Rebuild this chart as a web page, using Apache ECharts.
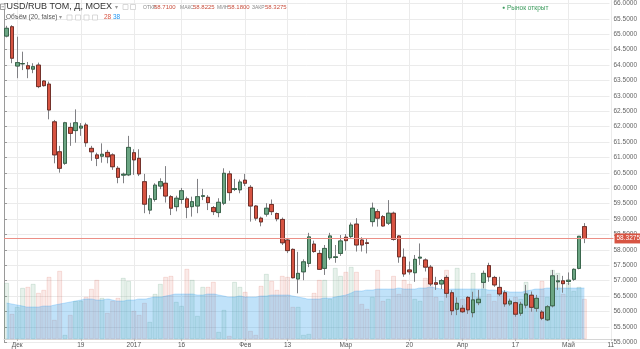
<!DOCTYPE html>
<html><head><meta charset="utf-8">
<script src="https://cdn.jsdelivr.net/npm/echarts@6/dist/echarts.min.js"></script>
<style>html,body{margin:0;padding:0;background:#fff}#c{width:640px;height:349px}</style>
</head><body><div id="c"></div>
<script>
// ---------- data ----------
const dates = [
 '2016-11-29','2016-11-30',
 '2016-12-01','2016-12-02','2016-12-05','2016-12-06','2016-12-07','2016-12-08','2016-12-09','2016-12-12','2016-12-13','2016-12-14','2016-12-15','2016-12-16','2016-12-19','2016-12-20','2016-12-21','2016-12-22','2016-12-23','2016-12-26','2016-12-27','2016-12-28','2016-12-29','2016-12-30',
 '2017-01-03','2017-01-04','2017-01-05','2017-01-06','2017-01-09','2017-01-10','2017-01-11','2017-01-12','2017-01-13','2017-01-16','2017-01-17','2017-01-18','2017-01-19','2017-01-20','2017-01-23','2017-01-24','2017-01-25','2017-01-26','2017-01-27','2017-01-30','2017-01-31',
 '2017-02-01','2017-02-02','2017-02-03','2017-02-06','2017-02-07','2017-02-08','2017-02-09','2017-02-10','2017-02-13','2017-02-14','2017-02-15','2017-02-16','2017-02-17','2017-02-20','2017-02-21','2017-02-22','2017-02-24','2017-02-27','2017-02-28',
 '2017-03-01','2017-03-02','2017-03-03','2017-03-06','2017-03-07','2017-03-09','2017-03-10','2017-03-13','2017-03-14','2017-03-15','2017-03-16','2017-03-17','2017-03-20','2017-03-21','2017-03-22','2017-03-23','2017-03-24','2017-03-27','2017-03-28','2017-03-29','2017-03-30','2017-03-31',
 '2017-04-03','2017-04-04','2017-04-05','2017-04-06','2017-04-07','2017-04-10','2017-04-11','2017-04-12','2017-04-13','2017-04-14','2017-04-17','2017-04-18','2017-04-19','2017-04-20','2017-04-21','2017-04-24','2017-04-25','2017-04-26','2017-04-27','2017-04-28',
 '2017-05-02','2017-05-03','2017-05-04','2017-05-05',
 '2017-05-06','2017-05-08','2017-05-09','2017-05-10','2017-05-11'
];
const opens = [
 64.82,65.12,63.86,63.93,63.87,63.76,63.89,63.38,63.28,62.07,
 61.11,60.74,61.89,61.79,61.87,61.97,61.22,61.01,60.97,61.09,
 61.01,60.58,60.36,60.37,61.08,60.90,60.15,59.24,59.58,60.01,
 60.10,59.67,59.35,59.58,59.60,59.35,59.37,59.68,59.65,59.32,
 59.16,59.46,60.40,59.90,59.89,60.20,59.97,59.37,58.98,59.11,
 59.42,59.13,58.94,58.28,57.98,57.03,57.26,57.53,58.15,57.85,
 57.37,57.71,57.72,57.85,58.37,58.39,58.79,58.28,58.19,58.87,
 59.19,59.03,58.82,59.14,58.41,57.73,57.32,57.23,57.70,57.64,
 57.41,56.91,56.87,57.08,56.59,56.06,56.09,56.44,55.95,56.27,
 56.92,57.46,57.08,56.76,56.59,56.23,56.27,55.93,56.19,56.51,
 56.09,55.97,55.72,56.17,56.94,56.97,56.95,57.02,57.37,58.71
];
const highs = [
 65.15,65.17,64.80,64.32,63.99,63.95,63.97,63.41,63.36,62.13,
 61.30,62.07,62.04,62.47,62.03,62.04,61.30,61.08,61.38,61.17,
 61.06,60.65,60.44,61.62,61.19,61.19,60.40,59.72,60.10,60.26,
 60.65,59.72,59.70,59.95,59.67,59.67,60.24,59.92,59.72,59.37,
 59.62,60.58,60.50,60.24,60.22,60.40,60.04,59.40,59.03,59.46,
 59.58,59.16,59.00,58.34,58.01,57.90,57.66,58.51,58.26,57.96,
 58.12,58.51,58.12,58.44,58.47,58.84,58.98,58.37,58.34,59.48,
 59.27,59.08,59.56,59.19,58.44,58.01,57.59,57.80,58.17,57.69,
 57.48,57.10,57.03,57.15,56.67,56.44,56.19,56.48,56.62,56.68,
 57.30,57.55,57.13,57.10,56.67,56.40,56.30,56.30,56.84,56.63,
 56.52,56.03,56.19,57.32,57.16,57.13,57.24,57.37,58.41,58.8225
];
const lows = [
 64.78,63.95,63.47,63.73,63.47,63.63,63.15,63.20,62.15,60.74,
 60.44,60.69,61.30,61.40,61.62,61.27,60.82,60.65,60.76,60.74,
 60.53,60.10,60.10,60.33,60.37,60.33,59.14,59.11,59.51,59.91,
 59.48,59.08,59.20,59.44,58.98,59.03,59.14,59.56,59.24,59.08,
 59.01,59.40,59.54,59.85,59.78,60.01,58.87,58.90,58.72,59.03,
 59.08,58.88,58.12,57.86,57.05,56.57,56.99,57.41,57.87,57.32,
 57.16,57.64,57.55,57.77,57.94,58.34,57.91,57.91,57.85,58.71,
 58.71,58.71,58.76,58.26,57.55,57.10,57.17,56.94,57.48,57.27,
 56.80,56.68,56.71,56.43,55.87,55.87,55.94,55.91,55.80,56.19,
 56.73,56.94,56.78,56.48,56.14,56.17,55.82,55.85,56.09,55.98,
 55.98,55.71,55.68,56.12,56.68,56.59,56.84,56.97,57.34,58.18
];
const closes = [
 65.07,64.11,63.97,63.94,63.77,63.84,63.20,63.23,62.45,61.01,
 60.58,62.04,61.70,62.04,61.93,61.40,61.11,60.90,61.03,60.95,
 60.63,60.29,60.39,61.25,60.85,60.40,59.43,59.60,60.04,60.15,
 59.69,59.30,59.62,59.86,59.33,59.51,59.67,59.70,59.48,59.19,
 59.49,60.42,59.80,59.93,60.14,60.10,59.37,58.98,58.86,59.30,
 59.19,58.96,58.19,57.94,57.07,57.21,57.58,58.38,57.91,57.34,
 58.01,58.41,57.74,58.25,58.26,58.76,58.12,58.12,58.17,59.30,
 58.98,58.73,59.14,58.30,57.74,57.19,57.26,57.66,57.73,57.41,
 56.87,56.86,56.98,56.57,56.01,56.25,55.98,56.04,56.36,56.38,
 57.21,57.10,56.84,56.55,56.23,56.32,55.90,56.22,56.55,56.12,
 56.41,55.77,56.14,57.13,56.97,56.88,56.99,57.34,58.40,58.3275
];
// volume (relative units)
const volumes = [
 56,25,32,51,52,55,46,49,62,19,
 68,4,24,38,38,42,50,59,41,26,
 38,41,61,58,28,24,36,17,45,55,
 62,63,37,33,70,59,23,52,52,57,
 7,29,3,57,52,47,8,4,53,65,
 58,49,63,62,32,32,4,5,46,59,
 59,40,71,63,67,72,67,35,30,42,
 69,38,40,63,45,59,55,40,38,61,
 57,42,38,69,45,71,40,35,66,42,
 60,45,38,50,44,35,42,40,57,43,
 38,58,42,69,66,45,56,48,52,40
];
// 20-period volume average
const volumeMA = [
 36,35,34,33,32,32,32,33,33,34,
 35,36,37,38,39,40,40,39,39,40,
 39,38,38,39,39,40,40,41,42,42,
 43,44,45,45,45,45,44,44,45,45,
 44,43,42,42,43,42,42,42,43,43,
 44,44,44,44,43,42,41,40,40,40,
 41,41,42,43,44,46,48,48,49,49,
 50,50,50,50,51,50,50,50,51,51,
 52,51,50,49,50,50,50,50,50,50,
 50,49,49,48,48,47,47,47,48,49,
 50,50,51,51,51,51,51,51,51,51
];
const tickDates = ['2016-12-01','2016-12-19','2017-01-03','2017-01-16','2017-02-01','2017-02-13','2017-03-01','2017-03-20','2017-04-03','2017-04-17','2017-05-02','2017-05-11'];
const tickTexts = ['Дек','19','2017','16','Фев','13','Мар','20','Апр','17','Май','11'];
const headerLabels = ['ОТКР','МАКС','МИН','ЗАКР'];
const headerValues = ['58.7100','58.8225','58.1800','58.3275'];
const volumeLegend = ['28','38'];
const lastClose = closes[closes.length - 1];

// ---------- chart ----------
const UP = '#6ba583', DOWN = '#d75442', UPB = '#225437', DOWNB = '#5b1a13', WICK = '#808084';
const FONT = "'Liberation Sans', Arial, sans-serif";
const isTick = (i, v) => tickDates.indexOf(v) >= 0;
const labelOf = v => { const k = tickDates.indexOf(v); return k >= 0 ? tickTexts[k] : ''; };

const full = opens.map((o, i) => [o, closes[i], lows[i], highs[i]]);
const body = opens.map((o, i) => [o, closes[i], Math.min(o, closes[i]), Math.max(o, closes[i])]);
const vol = volumes.map((v, i) => {
  const up = closes[i] >= opens[i];
  return {value: v, itemStyle: {
    color: up ? 'rgba(107,165,131,0.16)' : 'rgba(215,84,66,0.12)',
    borderColor: up ? 'rgba(107,165,131,0.35)' : 'rgba(215,84,66,0.28)', borderWidth: 0.6}};
});

const PX_TOP = -0.7, PX_PER = 31.18, PLOT_H = 339;
const priceAt = y => 66 - (y - PX_TOP) / PX_PER;

const chart = echarts.init(document.getElementById('c'));
const txt = (x, y, text, fill, size) => ({type:'text', x, y, silent:true, z:100,
  style:{text, fill, font: size + 'px ' + FONT, verticalAlign:'middle', align:'left'}});
const box = (x, y, s) => ({type:'rect', silent:true, z:100, shape:{x, y, width:s||5, height:s||5},
  style:{fill:'#fff', stroke:'#cfcfcf', lineWidth:0.8}});
const hdrX = [143, 180, 217, 252], valX = [154, 193, 228, 265];
const hdr = [];
headerLabels.forEach((l, k) => { hdr.push(txt(hdrX[k], 7.5, l, '#8a8a8a', 5)); hdr.push(txt(valX[k], 7.5, headerValues[k], '#c9503f', 6)); });

chart.setOption({
  animation: false,
  backgroundColor: '#fff',
  grid: [
    {left: 4, right: 26.5, top: 0, height: PLOT_H},
    {left: 4, right: 26.5, top: PX_TOP, height: 11 * PX_PER}
  ],
  xAxis: [
    {type:'category', gridIndex:0, data: dates, boundaryGap: true,
     axisLine:{show:true, lineStyle:{color:'#d6d6d6', width:1}},
     axisTick:{show:true, interval:isTick, alignWithLabel:true, length:2, lineStyle:{color:'#bbb'}},
     axisLabel:{interval:isTick, formatter: labelOf, color:'#555', fontSize:6.5, fontFamily:FONT, margin:3},
     splitLine:{show:true, interval:isTick, alignWithLabel:true, lineStyle:{color:'#ebebeb', width:1}}},
    {type:'value', gridIndex:1, show:false, min:0, max:1}
  ],
  yAxis: [
    {type:'value', gridIndex:0, show:false, min: priceAt(PLOT_H), max: priceAt(0), splitLine:{show:false}},
    {type:'value', gridIndex:0, show:false, min:0, max:PLOT_H, splitLine:{show:false}},
    {type:'value', gridIndex:1, position:'right', min:55, max:66, interval:0.5,
     axisLine:{show:true, lineStyle:{color:'#9a9a9a', width:1}},
     axisTick:{show:true, length:3, inside:false, lineStyle:{color:'#9a9a9a'}},
     axisLabel:{color:'#666', fontSize:6.5, fontFamily:FONT, margin:4, formatter: v => v.toFixed(4)},
     splitLine:{show:true, lineStyle:{color:'#ebebeb', width:1}}}
  ],
  series: [
    {type:'bar', xAxisIndex:0, yAxisIndex:1, data: vol, barWidth:'86%', z:1, silent:true},
    {type:'line', xAxisIndex:0, yAxisIndex:1, data: volumeMA, smooth:true, symbol:'none', z:2, silent:true,
     lineStyle:{width:0.8, color:'rgba(33,150,243,0.3)'}, areaStyle:{color:'rgba(40,155,235,0.42)'}},
    {type:'candlestick', xAxisIndex:0, yAxisIndex:0, data: full, barWidth:4, z:3, silent:true,
     itemStyle:{color:WICK, color0:WICK, borderColor:WICK, borderColor0:WICK, borderWidth:1}},
    {type:'candlestick', xAxisIndex:0, yAxisIndex:0, data: body, barWidth:4, z:4, silent:true,
     itemStyle:{color:UP, color0:DOWN, borderColor:UPB, borderColor0:DOWNB, borderWidth:0.7},
     markLine:{silent:true, symbol:['none','none'], animation:false,
       data:[{yAxis: lastClose}],
       lineStyle:{color:'#ec8f86', width:1, type:'solid'},
       label:{show:true, position:'end', distance:1, formatter: () => lastClose.toFixed(4),
         backgroundColor:DOWN, color:'#fff', fontSize:6.5, fontFamily:FONT, padding:[2,2,1,2]}}}
  ],
  graphic: [
    {type:'rect', silent:true, z:100, shape:{x:0.5, y:4, width:4.5, height:5.5}, style:{fill:'#fff', stroke:'#777', lineWidth:0.7}},
    {type:'line', silent:true, z:101, shape:{x1:1.5, y1:6.75, x2:4, y2:6.75}, style:{stroke:'#777', lineWidth:0.7}},
    txt(6.5, 7, 'USD/RUB TOM, Д, MOEX', '#333', 9),
    txt(115, 7, '▾', '#999', 6),
    box(123, 4.5), box(130.5, 4.5),
    ...hdr,
    txt(6, 17.5, 'Объём (20, false)', '#555', 6.5),
    txt(59, 17.5, '▾', '#999', 5.5),
    box(67, 15), box(75.5, 15), box(84, 15), box(92.5, 15),
    txt(104, 17.5, volumeLegend[0], DOWN, 6.5),
    txt(113, 17.5, volumeLegend[1], '#2196f3', 6.5),
    txt(502, 8, '●', '#3c9b5d', 5),
    txt(507, 8, 'Рынок открыт', '#3c9b5d', 6.5)
  ]
});
</script>
</body></html>
